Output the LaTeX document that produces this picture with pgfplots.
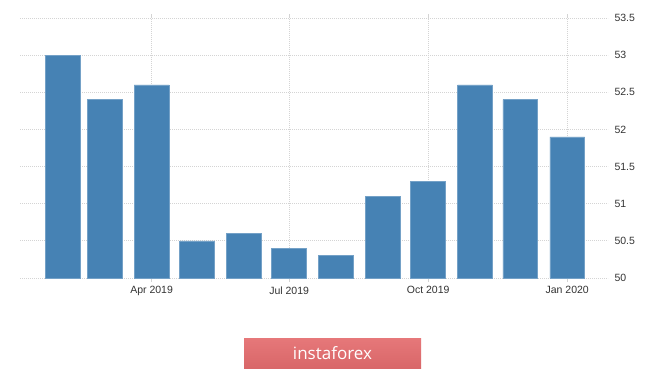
\documentclass[border=0pt]{standalone}
\usepackage{pgfplots}
\pgfplotsset{compat=1.18}
\usepackage{fontspec}
\setmainfont{Liberation Sans}
\newfontfamily\logofont{Open Sans}
\definecolor{barblue}{RGB}{70,130,180}
\definecolor{gridgrey}{RGB}{212,212,212}
\definecolor{txt}{RGB}{51,51,51}
\definecolor{logored}{RGB}{228,108,110}
\begin{document}
\begin{tikzpicture}[x=1pt,y=1pt]
\useasboundingbox[fill=white] (0,-370) rectangle (665,0);
\begin{axis}[
  at={(20pt,-278pt)}, anchor=south west,
  scale only axis, width=588pt, height=260pt,
  xmin=-28.1, xmax=361, ymin=50, ymax=53.5,
  ybar, bar width=23,
  axis line style={draw=none},
  xtick={59,150,242,334},
  xticklabels={Apr 2019, Jul 2019, Oct 2019, Jan 2020},
  ytick={50,50.5,51,51.5,52,52.5,53,53.5},
  yticklabel pos=right,
  yticklabel style={anchor=west, xshift=-1pt},
  xticklabel style={yshift=-1pt},
  tick label style={font=\fontsize{10.5}{12}\selectfont, text=txt},
  /pgf/number format/assume math mode=true,
  tick align=outside,
  xtick style={draw=gridgrey, line width=0.8pt},
  ytick style={draw=none},
  major tick length=4pt,
  xmajorgrids, ymajorgrids,
  grid style={draw=gridgrey, line width=0.8pt, dash pattern=on 1pt off 1pt},
]
\addplot[fill=barblue, draw=barblue!75!white, line width=0.6pt] coordinates {
  (0,53.0) (28,52.4) (59,52.6) (89,50.5) (120,50.6) (150,50.4)
  (181,50.3) (212,51.1) (242,51.3) (273,52.6) (303,52.4) (334,51.9)
};
\end{axis}
\shade[top color=logored!92!white, bottom color=logored!95!black] (244,-338) rectangle (421,-368);
\node[text=white, font=\logofont\fontsize{17}{20}\selectfont] at (332.5,-353) {instaforex};
\end{tikzpicture}
\end{document}
